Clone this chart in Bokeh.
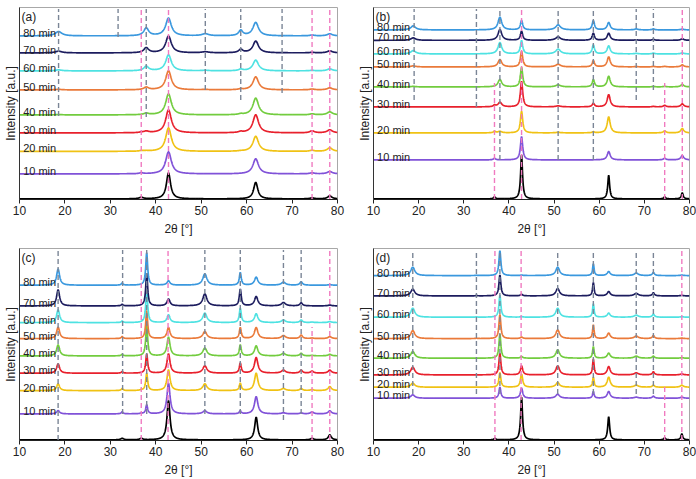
import numpy as np
from bokeh.plotting import figure
from bokeh.models import Range1d, FixedTicker, Label
from bokeh.layouts import column, row
from bokeh.embed import file_html
from bokeh.resources import INLINE
from bokeh.core.properties import value

# ---------------- shared data ----------------
x_ticks = [10, 20, 30, 40, 50, 60, 70, 80]
series_names = ["ref", "10 min", "20 min", "30 min", "40 min",
                "50 min", "60 min", "70 min", "80 min"]
series_colors = ["#000000", "#8052d8", "#f0c214", "#e8202c", "#72cc3e",
                 "#ea7a3a", "#4ee2e2", "#1c1c5e", "#3a98de"]

# ---------------- panel (a) ----------------
peaks_a = [18.6, 36.8, 37.9, 42.8, 50.9, 58.7, 62.0, 74.4, 78.3]
fwhm_a = [1.8, 0.9, 1.3, 1.5, 1.8, 1.1, 1.5, 1.2, 1.4]
fwhm_ref_a = 1.1
heights_a = [
    [0.0, 1.5, 0.0, 26.0, 0.0, 0.0, 16.5, 1.0, 3.0],
    [0.0, 1.0, 0.0, 22.0, 0.0, 0.0, 15.0, 1.0, 2.3],
    [0.0, 0.5, 0.5, 23.5, 0.0, 0.3, 15.0, 1.0, 3.5],
    [0.0, 0.5, 1.5, 23.0, 0.0, 1.0, 18.0, 2.0, 3.0],
    [0.3, 0.0, 1.5, 21.0, 0.0, 0.8, 16.7, 1.0, 3.0],
    [0.5, 0.0, 2.5, 19.0, 0.3, 0.8, 13.0, 0.8, 2.0],
    [1.0, 0.0, 4.5, 16.0, 0.5, 1.5, 10.7, 0.5, 2.0],
    [1.7, 0.0, 5.0, 16.7, 1.0, 3.3, 11.7, 0.5, 2.0],
    [4.3, 0.0, 7.7, 17.7, 2.0, 5.3, 13.3, 0.8, 2.0],
]
baselines_a = [0, 25, 47.5, 66, 84, 109, 128, 146, 163]
gray_x_a = [18.6, 31.7, 37.9, 50.9, 58.7, 67.8]
gray_bottom_a = [83, 162, 82, 109, 99, 106]
pink_x_a = [36.8, 42.8, 74.4, 78.3]
pink_bottom_a = [0, 0, 0, 0]
pink_top_a = [189, 189, 189, 189]

# ---------------- panel (b) ----------------
peaks_b = [18.8, 36.8, 38.0, 42.8, 50.9, 58.7, 62.1, 68.2, 72.0, 74.5, 78.4]
fwhm_b = [1.3, 0.6, 1.0, 0.6, 1.3, 0.6, 0.8, 0.8, 0.6, 0.7, 0.8]
fwhm_ref_b = 0.5
heights_b = [
    [0.0, 2.0, 0.0, 44.0, 0.0, 0.0, 23.6, 0.0, 0.0, 2.0, 6.0],
    [0.0, 1.5, 0.0, 23.3, 0.0, 0.0, 8.3, 0.0, 0.0, 1.5, 4.3],
    [0.0, 1.5, 1.5, 21.6, 0.5, 1.0, 16.0, 0.0, 0.0, 2.0, 4.3],
    [0.0, 1.5, 4.6, 25.6, 1.0, 3.6, 12.3, 0.0, 0.5, 1.5, 3.0],
    [0.5, 0.0, 7.3, 19.6, 2.0, 7.3, 10.6, 0.0, 0.5, 0.5, 2.5],
    [1.0, 0.0, 7.3, 15.6, 2.6, 6.3, 10.0, 0.3, 0.5, 0.5, 2.0],
    [3.3, 0.0, 11.3, 13.3, 4.7, 9.0, 8.0, 0.5, 0.8, 0.0, 1.0],
    [2.4, 0.0, 10.7, 9.0, 3.4, 7.0, 7.0, 0.5, 1.0, 0.0, 1.5],
    [4.0, 0.0, 12.7, 9.3, 5.0, 9.3, 7.3, 1.0, 1.0, 0.0, 0.8],
]
baselines_b = [0, 39, 66, 92, 112, 132, 145, 158.6, 169]
gray_x_b = [19.0, 32.8, 38.0, 50.9, 58.7, 68.2, 72.0]
gray_bottom_b = [99, 92, 39, 39, 39, 99, 109]
pink_x_b = [36.8, 42.8, 74.5, 78.4]
pink_bottom_b = [0, 0, 0, 0]
pink_top_b = [116, 190, 116, 190]

# ---------------- panel (c) ----------------
peaks_c = [18.5, 32.6, 36.8, 38.0, 42.8, 50.8, 58.6, 62.1, 68.1, 72.0, 74.4, 78.3]
fwhm_c = [0.8, 0.5, 0.6, 0.5, 0.8, 1.1, 0.5, 0.9, 1.1, 0.7, 0.8, 0.9]
fwhm_ref_c = 0.8
heights_c = [
    [0.0, 1.5, 1.5, 0.0, 39.3, 0.0, 0.0, 22.7, 0.0, 0.0, 1.5, 5.0],
    [3.3, 2.0, 0.5, 9.0, 30.7, 3.0, 3.0, 17.3, 1.0, 1.0, 2.0, 3.0],
    [6.7, 2.0, 0.5, 17.3, 20.7, 6.7, 7.3, 17.3, 2.0, 2.0, 1.0, 4.0],
    [9.3, 1.5, 0.0, 19.3, 19.3, 7.3, 10.0, 15.6, 3.0, 3.0, 2.0, 3.0],
    [11.0, 1.5, 0.0, 31.0, 18.7, 7.7, 11.0, 10.0, 2.5, 2.5, 0.5, 1.5],
    [11.4, 2.0, 0.0, 28.0, 11.0, 7.0, 11.0, 11.0, 3.0, 3.5, 0.5, 2.0],
    [12.7, 1.5, 0.0, 32.7, 7.7, 9.4, 14.4, 8.7, 2.5, 2.5, 0.5, 1.0],
    [16.0, 1.5, 0.0, 32.7, 6.7, 12.0, 16.7, 9.3, 3.3, 3.0, 0.0, 0.8],
    [16.0, 2.0, 0.0, 32.6, 4.3, 11.3, 12.6, 8.0, 3.0, 3.3, 0.0, 0.5],
]
baselines_c = [0, 26, 49.3, 66.7, 84, 101.3, 117.3, 134, 154.7]
gray_x_c = [18.5, 32.7, 38.0, 50.8, 58.6, 68.1, 72.0]
gray_bottom_c = [0, 26, 26, 26, 26, 20, 26]
pink_x_c = [36.8, 42.7, 74.4, 78.3]
pink_bottom_c = [0, 0, 0, 0]
pink_top_c = [190, 190, 113, 190]

# ---------------- panel (d) ----------------
peaks_d = [18.7, 32.8, 36.9, 38.0, 42.8, 50.8, 58.7, 62.1, 68.2, 72.0, 74.5, 78.3]
fwhm_d = [1.1, 0.5, 0.6, 0.5, 0.6, 1.0, 0.4, 0.8, 1.1, 0.6, 0.7, 0.8]
fwhm_ref_d = 0.5
heights_d = [
    [0.0, 0.0, 1.5, 0.0, 42.7, 0.0, 0.0, 23.3, 0.0, 0.0, 2.0, 6.0],
    [3.3, 0.0, 0.0, 11.0, 10.0, 4.0, 6.7, 6.7, 1.0, 2.0, 0.0, 1.0],
    [4.0, 0.0, 0.0, 14.6, 13.0, 4.6, 10.0, 10.0, 2.0, 2.0, 0.0, 2.0],
    [7.7, 0.0, 0.0, 21.7, 9.0, 9.0, 15.7, 8.3, 2.0, 3.0, 0.0, 1.0],
    [6.6, 0.0, 0.0, 24.0, 1.6, 8.3, 11.6, 5.0, 2.0, 2.0, 0.0, 0.5],
    [8.0, 0.3, 0.0, 24.0, 1.5, 8.7, 13.7, 5.4, 2.5, 3.0, 0.0, 0.5],
    [9.0, 0.3, 0.0, 22.0, 0.5, 9.0, 13.3, 4.0, 2.0, 3.0, 0.0, 0.5],
    [6.7, 0.3, 0.0, 21.0, 1.5, 7.3, 13.3, 4.3, 2.5, 3.0, 0.0, 0.5],
    [8.4, 0.3, 0.0, 25.0, 0.5, 8.4, 11.7, 4.0, 2.5, 3.0, 0.0, 0.5],
]
baselines_d = [0, 41.7, 52.7, 65, 81.7, 101.3, 122.7, 144, 164.3]
gray_x_d = [18.7, 32.8, 38.0, 50.8, 58.7, 68.2, 72.0]
gray_bottom_d = [46, 46, 46, 46, 46, 46, 46]
pink_x_d = [36.9, 42.7, 74.5, 78.3]
pink_bottom_d = [0, 0, 0, 0]
pink_top_d = [190, 190, 56, 190]

GRAY_TOP = 190
FONT = "Liberation Sans"
Y0, Y1 = -0.6, 191.4
FRAME_H = 192


def profile(x, centers, heights, widths):
    y = np.zeros_like(x)
    for c, h, w in zip(centers, heights, widths):
        if h > 0:
            y += h / (1.0 + ((x - c) / (w / 2.0)) ** 2)
    return y


def build_panel(letter, peaks, fwhm, fwhm_ref, heights, baselines,
                gray_x, gray_bottom, pink_x, pink_bottom, pink_top,
                frame_w, b_left, b_right, b_top, b_bottom):
    p = figure(frame_width=frame_w, frame_height=FRAME_H,
               x_range=Range1d(10, 80), y_range=Range1d(Y0, Y1),
               output_backend="svg", toolbar_location=None,
               min_border_left=b_left, min_border_right=b_right,
               min_border_top=b_top, min_border_bottom=b_bottom)
    p.background_fill_color = "white"
    p.border_fill_color = "white"
    p.outline_line_color = "#a8a8a8"
    p.outline_line_width = 1
    p.xgrid.visible = False
    p.ygrid.visible = False

    xa = p.xaxis[0]
    xa.ticker = FixedTicker(ticks=x_ticks)
    xa.minor_tick_line_color = None
    xa.major_tick_out = 4
    xa.major_tick_in = 0
    xa.major_label_standoff = 2
    xa.major_label_text_font = FONT
    xa.major_label_text_font_size = "12px"
    xa.major_label_text_color = "#222222"
    xa.axis_line_color = "#222222"
    xa.major_tick_line_color = "#222222"
    xa.axis_label = "2θ [°]"
    xa.axis_label_text_font = FONT
    xa.axis_label_text_font_size = "12px"
    xa.axis_label_text_font_style = "normal"
    xa.axis_label_text_color = "#222222"
    xa.axis_label_standoff = 4

    ya = p.yaxis[0]
    ya.ticker = FixedTicker(ticks=[])
    ya.minor_tick_line_color = None
    ya.major_tick_out = 0
    ya.major_tick_in = 0
    ya.major_label_standoff = 0
    ya.major_label_text_font_size = "0px"
    ya.axis_line_color = "#333333"
    ya.axis_label = "Intensity [a.u.]"
    ya.axis_label_text_font = FONT
    ya.axis_label_text_font_size = "12px"
    ya.axis_label_text_font_style = "normal"
    ya.axis_label_text_color = "#222222"
    ya.axis_label_standoff = 2

    xs = np.linspace(10, 80, 1401)
    for i, (name, col) in enumerate(zip(series_names, series_colors)):
        widths = [fwhm_ref] * len(peaks) if i == 0 else fwhm
        ys = baselines[i] + profile(xs, peaks, heights[i], widths)
        p.line(xs, ys, line_color=col, line_width=1.7)

    p.segment(x0=gray_x, y0=gray_bottom, x1=gray_x, y1=[GRAY_TOP] * len(gray_x),
              line_color="#7a8596", line_width=1.4, line_dash="5 3")
    p.segment(x0=pink_x, y0=pink_bottom, x1=pink_x, y1=pink_top,
              line_color="#f07ac0", line_width=1.4, line_dash="5 3")

    lab_x = [10.8] * (len(series_names) - 1)
    lab_y = [b + 3 for b in baselines[1:]]
    p.text(x=lab_x, y=lab_y, text=series_names[1:], text_font=value(FONT),
           text_font_size="11px", text_color="#222222",
           text_align="left", text_baseline="alphabetic")

    p.add_layout(Label(x=10, y=Y1, x_offset=2, y_offset=-2, text=f"({letter})",
                       text_font=FONT, text_font_size="12px", text_color="#222222",
                       text_align="left", text_baseline="top"))
    return p


pa = build_panel("a", peaks_a, fwhm_a, fwhm_ref_a, heights_a, baselines_a,
                 gray_x_a, gray_bottom_a, pink_x_a, pink_bottom_a, pink_top_a,
                 318, 17, 17, 7, 40)
pb = build_panel("b", peaks_b, fwhm_b, fwhm_ref_b, heights_b, baselines_b,
                 gray_x_b, gray_bottom_b, pink_x_b, pink_bottom_b, pink_top_b,
                 316, 16, 12, 7, 40)
pc = build_panel("c", peaks_c, fwhm_c, fwhm_ref_c, heights_c, baselines_c,
                 gray_x_c, gray_bottom_c, pink_x_c, pink_bottom_c, pink_top_c,
                 318, 17, 17, 9, 39)
pd = build_panel("d", peaks_d, fwhm_d, fwhm_ref_d, heights_d, baselines_d,
                 gray_x_d, gray_bottom_d, pink_x_d, pink_bottom_d, pink_top_d,
                 316, 16, 12, 9, 39)

layout = column(row(pa, pb), row(pc, pd))
open("out.html", "w").write(file_html(layout, INLINE))
